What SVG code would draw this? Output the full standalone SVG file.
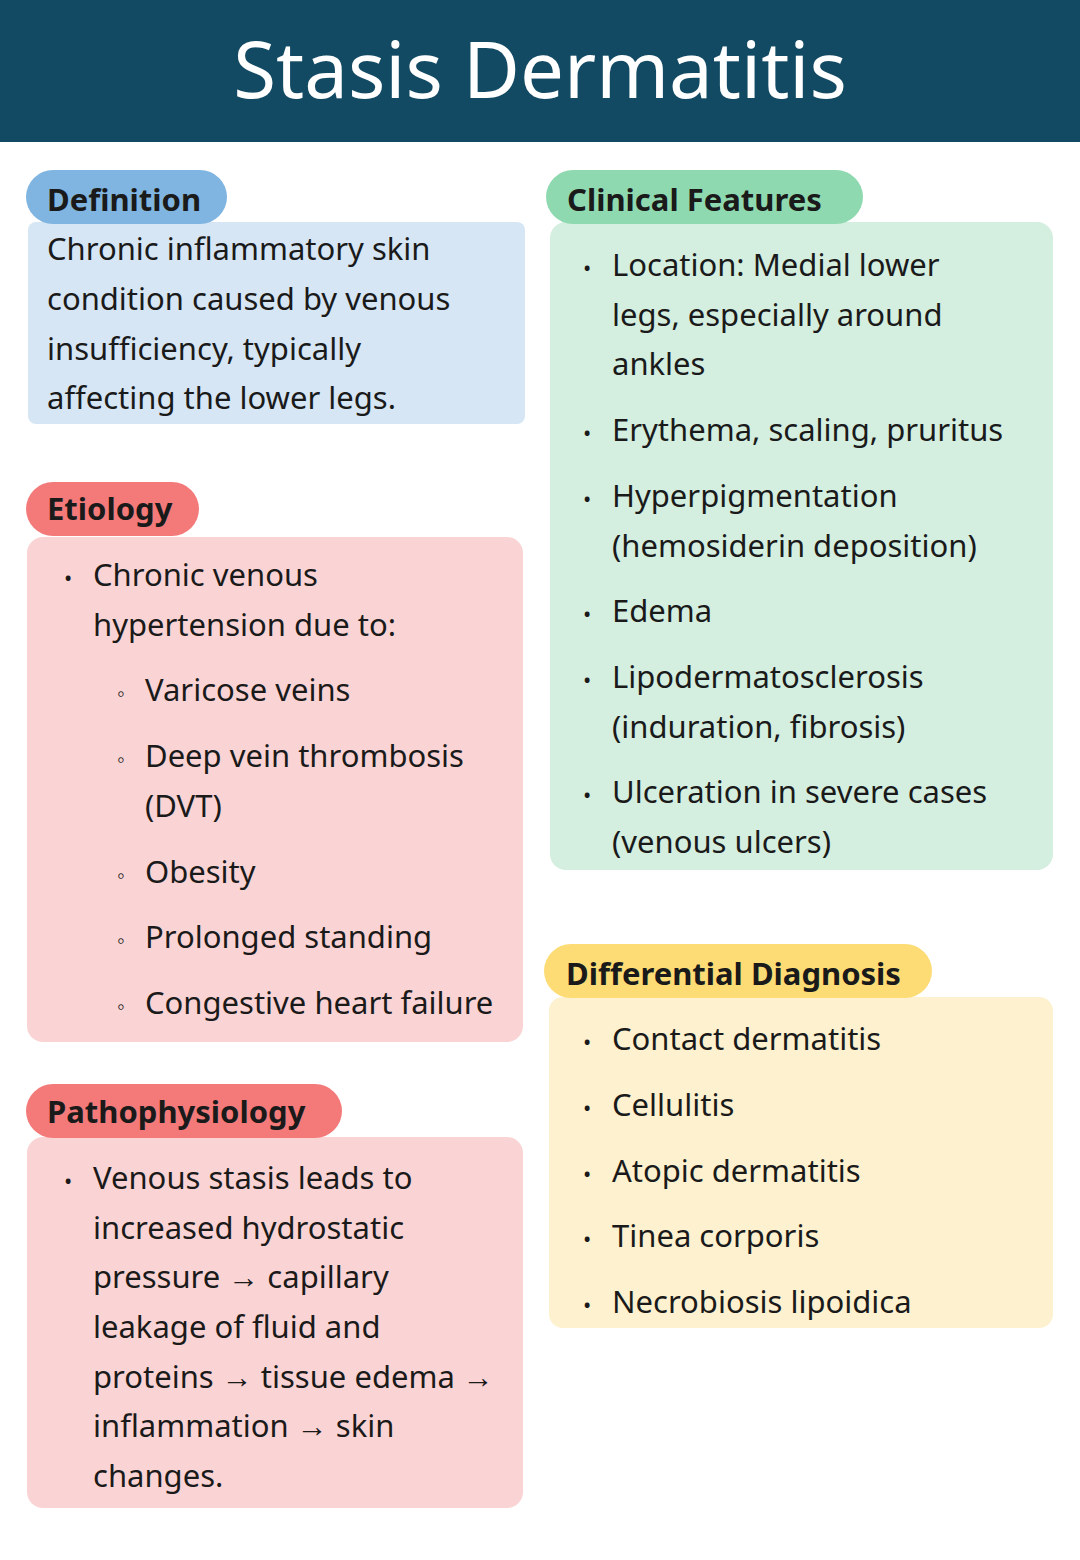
<svg xmlns="http://www.w3.org/2000/svg" width="1080" height="1560" viewBox="0 0 1080 1560">
<style>
text{font-family:"Noto Sans","Open Sans",sans-serif;fill:#1a1a1a}
.t{font-size:31px}
.h{font-size:31px;font-weight:bold}
.b{font-size:22px}
.title{font-size:78px;fill:#ffffff}
</style>
<rect width="1080" height="1560" fill="#ffffff"/>
<rect width="1080" height="142" fill="#134a63"/>
<text class="title" x="540" y="98" text-anchor="middle">Stasis Dermatitis</text>

<g id="definition">
<rect x="28" y="222" width="497" height="202" rx="8" fill="#d6e6f4"/>
<rect x="26" y="170" width="201" height="54" rx="27" fill="#7fb5e0"/>
<text class="h" x="47" y="211">Definition</text>
<text class="t" x="47" y="260">Chronic inflammatory skin</text>
<text class="t" x="47" y="310">condition caused by venous</text>
<text class="t" x="47" y="360">insufficiency, typically</text>
<text class="t" x="47" y="409">affecting the lower legs.</text>
</g>

<g id="etiology">
<rect x="27" y="537" width="496" height="505" rx="16" fill="#fad4d4"/>
<rect x="26" y="482" width="173" height="54" rx="27" fill="#f47a7a"/>
<text class="h" x="47" y="520">Etiology</text>
<text class="b" x="64" y="586">•</text>
<text class="t" x="93" y="586">Chronic venous</text>
<text class="t" x="93" y="636">hypertension due to:</text>
<g class="b">
<text class="b" x="117" y="701">◦</text>
<text class="b" x="117" y="767">◦</text>
<text class="b" x="117" y="883">◦</text>
<text class="b" x="117" y="948">◦</text>
<text class="b" x="117" y="1014">◦</text>
</g>
<text class="t" x="145" y="701">Varicose veins</text>
<text class="t" x="145" y="767">Deep vein thrombosis</text>
<text class="t" x="145" y="817">(DVT)</text>
<text class="t" x="145" y="883">Obesity</text>
<text class="t" x="145" y="948">Prolonged standing</text>
<text class="t" x="145" y="1014">Congestive heart failure</text>
</g>

<g id="pathophysiology">
<rect x="27" y="1137" width="496" height="371" rx="16" fill="#fad4d4"/>
<rect x="26" y="1084" width="316" height="54" rx="27" fill="#f47a7a"/>
<text class="h" x="47" y="1123">Pathophysiology</text>
<text class="b" x="64" y="1189">•</text>
<text class="t" x="93" y="1189">Venous stasis leads to</text>
<text class="t" x="93" y="1239">increased hydrostatic</text>
<text class="t" x="93" y="1288">pressure → capillary</text>
<text class="t" x="93" y="1338">leakage of fluid and</text>
<text class="t" x="93" y="1388">proteins → tissue edema →</text>
<text class="t" x="93" y="1437">inflammation → skin</text>
<text class="t" x="93" y="1487">changes.</text>
</g>

<g id="clinical-features">
<rect x="550" y="222" width="503" height="648" rx="16" fill="#d4eee0"/>
<rect x="546" y="170" width="317" height="54" rx="27" fill="#8fd9b0"/>
<text class="h" x="567" y="211">Clinical Features</text>
<text class="b" x="583" y="276">•</text>
<text class="b" x="583" y="441">•</text>
<text class="b" x="583" y="507">•</text>
<text class="b" x="583" y="622">•</text>
<text class="b" x="583" y="688">•</text>
<text class="b" x="583" y="803">•</text>
<text class="t" x="612" y="276">Location: Medial lower</text>
<text class="t" x="612" y="326">legs, especially around</text>
<text class="t" x="612" y="375">ankles</text>
<text class="t" x="612" y="441">Erythema, scaling, pruritus</text>
<text class="t" x="612" y="507">Hyperpigmentation</text>
<text class="t" x="612" y="557">(hemosiderin deposition)</text>
<text class="t" x="612" y="622">Edema</text>
<text class="t" x="612" y="688">Lipodermatosclerosis</text>
<text class="t" x="612" y="738">(induration, fibrosis)</text>
<text class="t" x="612" y="803">Ulceration in severe cases</text>
<text class="t" x="612" y="853">(venous ulcers)</text>
</g>

<g id="differential-diagnosis">
<rect x="549" y="997" width="504" height="331" rx="14" fill="#fdf1cf"/>
<rect x="544" y="944" width="388" height="54" rx="27" fill="#fddc75"/>
<text class="h" x="566" y="985">Differential Diagnosis</text>
<text class="b" x="583" y="1050">•</text>
<text class="b" x="583" y="1116">•</text>
<text class="b" x="583" y="1182">•</text>
<text class="b" x="583" y="1247">•</text>
<text class="b" x="583" y="1313">•</text>
<text class="t" x="612" y="1050">Contact dermatitis</text>
<text class="t" x="612" y="1116">Cellulitis</text>
<text class="t" x="612" y="1182">Atopic dermatitis</text>
<text class="t" x="612" y="1247">Tinea corporis</text>
<text class="t" x="612" y="1313">Necrobiosis lipoidica</text>
</g>
</svg>
